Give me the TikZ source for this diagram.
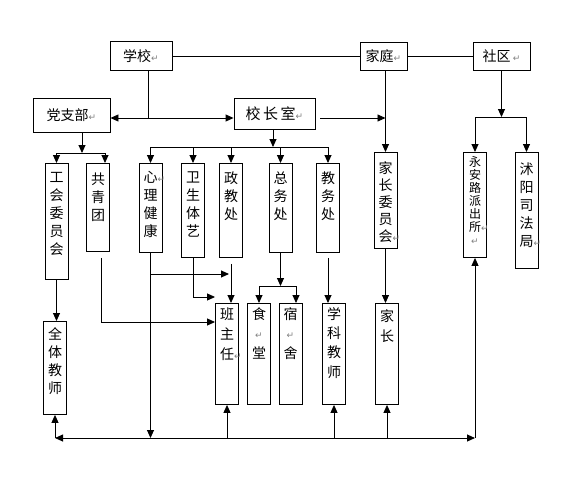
\documentclass[tikz,border=0pt]{standalone}
\usepackage{fontspec}
\setmainfont{Noto Sans CJK SC}
\newfontfamily\symfont{DejaVu Sans}
\usetikzlibrary{arrows.meta}

\newcommand\ret{{\symfont\fontsize{9pt}{9pt}\selectfont\color{gray}↵}}
% #1 line pitch, #2 space above the text, #3 box height, #4 lines
\newcommand\colt[4][18pt]{\parbox[t][#3][t]{14pt}{\centering\baselineskip=#1\relax
  \vspace*{#2}#4\par}}

\begin{document}
\begin{tikzpicture}[x=1pt,y=-1pt,line width=0.9pt]
	\useasboundingbox (0,0) rectangle (575,483);

	\begin{scope}[every node/.style={draw,inner sep=0pt,font=\fontsize{14pt}{18pt}\selectfont}]
	    \node[minimum width=62pt,minimum height=29pt] (school) at (141,56) {学校\ret};
	    \node[minimum width=47pt,minimum height=28pt] (family) at (383.5,56) {家庭\ret};
	    \node[minimum width=57pt,minimum height=28pt] (community) at (501.5,56) {社区\,\ret};
	    \node[minimum width=77pt,minimum height=34pt] (party) at (71.5,115) {党支部\ret};
	    \node[minimum width=81pt,minimum height=31pt,font=\fontsize{15pt}{18pt}\selectfont]
	        (office) at (274.5,113.5) {校\,长\,室\ret};
	\end{scope}

	\begin{scope}[every node/.style={draw,anchor=north,inner xsep=4.5pt,inner ysep=0pt,
	              font=\fontsize{14pt}{18pt}\selectfont}]
	    \node (union) at (56.5,163) {\colt{9pt}{116pt}{工\\会\\委\\员\\会}};
	    \node (youth) at (98,163) {\colt{9pt}{88pt}{共\\青\\团}};
	    \node (psych) at (150.5,163) {\colt{8pt}{89pt}{心\rlap{\ret}\\理\\健\\康}};
	    \node (health) at (193,163) {\colt{8pt}{94pt}{卫\\生\\体\\艺}};
	    \node (moral) at (231,163) {\colt{8pt}{94pt}{政\\教\\处}};
	    \node (general) at (280.5,163) {\colt{8pt}{89pt}{总\\务\\处}};
	    \node (teach) at (328,163) {\colt{8pt}{89pt}{教\\务\\处}};
	    \node (pc) at (385.5,152) {\colt[17pt]{9pt}{96pt}{家\\长\\委\\员\\会\rlap{\ret}}};
	    \node[font=\fontsize{12pt}{13pt}\selectfont] (police) at (475,152)
	        {\colt[13pt]{4pt}{105pt}{永\\安\\路\\派\\出\\所\rlap{\ret}\\\ret}};
	    \node (justice) at (526.5,152) {\colt{10pt}{116pt}{沭\\阳\\司\\法\\局\rlap{\ret}}};
	    \node (staff) at (55,321) {\colt{6pt}{93pt}{全\\体\\教\\师}};
	    \node (head) at (227,303) {\colt[20pt]{4pt}{101pt}{班\\主\\任\rlap{\ret}}};
	    \node (canteen) at (259,303) {\colt[19.5pt]{4pt}{101pt}{食\\\ret\\堂}};
	    \node (dorm) at (290.5,303) {\colt[19.5pt]{4pt}{101pt}{宿\\\ret\\舍}};
	    \node (subj) at (334,303) {\colt[19.3pt]{4pt}{101pt}{学\\科\\教\\师}};
	    \node (parent) at (387,303) {\colt[20pt]{6pt}{101pt}{家\\长}};
	\end{scope}

	\coordinate (sj) at (148,118);
	\coordinate (pj) at (82,153);
	\coordinate (oj) at (273,147);
	\coordinate (cj) at (501,117);
	\coordinate (gj) at (0,286);
	\coordinate (pb) at (0,274);
	\coordinate (hb) at (0,297);
	\coordinate (yb) at (0,322);
	\coordinate (bus) at (0,438);

	\begin{scope}[>={Triangle[length=8pt,width=7pt]}]
	    \draw (school) -- (family);
	    \draw (family) -- (community);
	    \draw (school.south -| sj) -- (sj);
	    \draw[<->] (party.east |- sj) -- (office.west |- sj);
	    \draw[->] (office.east |- sj) ++(5,0) -- (pc.north |- sj);
	    \draw[->] (family.south -| pc.north) -- (pc.north);
	    \draw[->] (community.south) -- (community.south |- cj);
	    \draw[->] (cj) -| (police.north);
	    \draw[->] (cj) -| (justice.north);

	    \draw[->] (party.south -| pj) -- (pj);
	    \draw[->] (pj) -| (union.north);
	    \draw[->] (pj) -| ([xshift=7pt]youth.north);

	    \draw[->] (office.south -| oj) -- (oj);
	    \draw[->] (oj) -| (psych.north);
	    \draw[->] (oj) -| (health.north);
	    \draw[->] (oj) -| (moral.north);
	    \draw[->] (oj) -| (general.north);
	    \draw[->] (oj) -| (teach.north);

	    \draw[->] (union.south) -- (union.south |- staff.north);
	    \draw[->] (youth.south) ++(3,6) |- (head.west |- yb);
	    \draw[->] (psych.south) -- (psych.south |- bus);
	    \draw[->,shorten >=2pt] (psych.south |- pb) -- (moral.south |- pb);
	    \draw[->] (health.south) |- (head.west |- hb);
	    \draw[->] (moral.south) ++(0,6) -- (moral.south |- head.north);
	    \draw[->] (general.south) -- (general.south |- gj);
	    \draw[->] (general.south |- gj) -| (canteen.north);
	    \draw[->] (general.south |- gj) -| ([xshift=5.5pt]dorm.north);
	    \draw[->] (teach.south) ++(0,5) -- (teach.south |- subj.north);
	    \draw[->] (pc.south) -- (pc.south |- parent.north);

	    \draw[<->] (staff.south |- bus) -- (police.south |- bus);
	    \draw[->] (staff.south |- bus) -- (staff.south);
	    \draw[->] (police.south |- bus) -- (police.south);
	    \draw[->] (head.south |- bus) -- (head.south);
	    \draw[->] (subj.south |- bus) -- (subj.south);
	    \draw[->] (parent.south |- bus) -- (parent.south);
	\end{scope}
\end{tikzpicture}
\end{document}
